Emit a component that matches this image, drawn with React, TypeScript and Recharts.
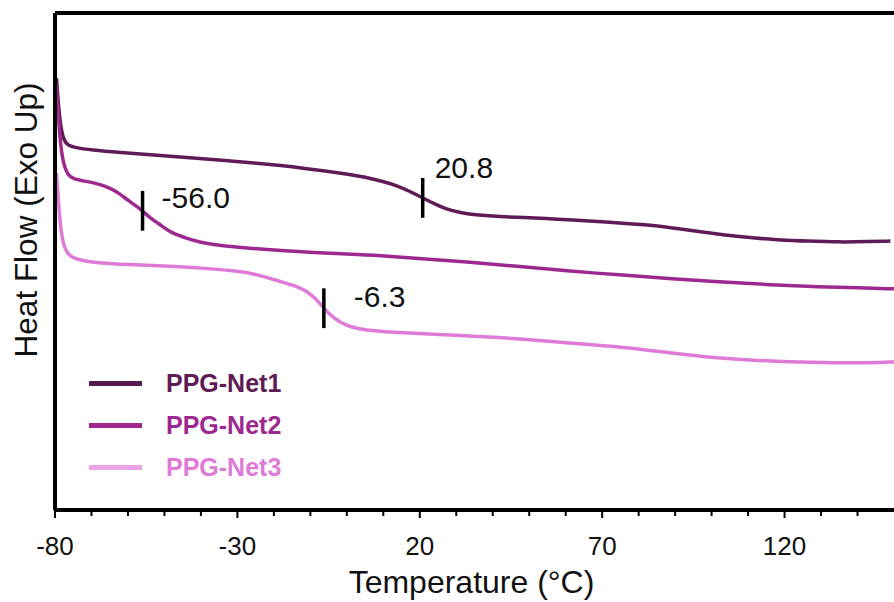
import React from "react";
import {
  ComposedChart,
  Line,
  XAxis,
  YAxis,
  ReferenceLine,
  ReferenceDot,
  Legend,
} from "recharts";

const FONT = "'Liberation Sans', Arial, Helvetica, sans-serif";

// DSC traces: temperature (°C) and heat flow (arb. units, exo up)
const net1Temp = [-79.6, -79.0, -78.4, -77.6, -76.5, -75, -70, -62, -54, -45, -35, -25, -18, -12, -6, 0, 5, 10, 14, 17, 20.8, 24, 27, 31, 36, 42, 48, 58, 66, 76, 84, 91, 98, 105, 112, 119, 126, 135, 143, 149];
const net1Flow = [86.9, 80.9, 76.9, 74.4, 73.4, 73.0, 72.4, 71.9, 71.5, 71.0, 70.4, 69.8, 69.3, 68.8, 68.2, 67.6, 67.0, 66.1, 65.2, 64.2, 62.8, 61.6, 60.6, 59.8, 59.3, 59.0, 58.9, 58.5, 58.2, 57.7, 57.3, 56.6, 55.9, 55.2, 54.7, 54.3, 54.1, 53.9, 54.0, 54.1];

const net2Temp = [-79.6, -79.0, -78.4, -77.6, -76.5, -75, -72, -68, -65, -62.5, -60, -58, -56, -54, -51, -48, -44, -40, -34, -27, -18, -9, 0, 9, 20, 35, 47.5, 60, 75, 88, 102, 116, 130, 140, 150];
const net2Flow = [85.5, 78.5, 72.8, 69.4, 67.4, 66.6, 66.2, 65.6, 64.8, 63.8, 62.3, 61.3, 60.2, 58.8, 57.3, 55.7, 54.7, 53.8, 53.1, 52.7, 52.2, 51.8, 51.5, 51.2, 50.6, 49.8, 49.0, 48.1, 47.3, 46.6, 45.9, 45.3, 44.9, 44.7, 44.5];

const net3Temp = [-79.6, -79.0, -78.4, -77.6, -76.5, -75, -72, -68, -60, -50, -40, -30, -24, -18.5, -13, -10, -8, -6.3, -4.5, -2, 1, 5, 12, 25, 40, 47.5, 61, 75, 82, 89, 96, 102, 110, 121, 134.5, 143.6, 150];
const net3Flow = [67.8, 61.4, 56.3, 53.1, 51.5, 50.7, 50.1, 49.7, 49.4, 49.1, 48.7, 48.1, 47.3, 46.0, 44.9, 43.5, 42.1, 40.6, 39.2, 37.8, 36.8, 36.2, 35.8, 35.3, 34.8, 34.4, 33.6, 32.8, 32.2, 31.6, 31.0, 30.6, 30.2, 29.8, 29.6, 29.6, 29.8];

const seriesNames = ["PPG-Net1", "PPG-Net2", "PPG-Net3"];
const seriesColors = ["#5f1b56", "#9c2890", "#df7bd7"];
const legendLineColors = ["#561a4e", "#a0288f", "#e9a2e3"];

// glass transition temperatures, one per series
const tgValues = [20.8, -56.0, -6.3];

const majorTicks = [-80, -30, 20, 70, 120];
const allTicks = [-80, -70, -60, -50, -40, -30, -20, -10, 0, 10, 20, 30, 40, 50, 60, 70, 80, 90, 100, 110, 120, 130, 140];

const temps = [net1Temp, net2Temp, net3Temp];
const flows = [net1Flow, net2Flow, net3Flow];
const series = temps.map((t, s) => t.map((x, i) => ({ t: x, v: flows[s][i] })));

// Tg label placement relative to the mark
const tgLabelShift = [
  { dx: 12, dy: -20 },
  { dx: 19, dy: -3 },
  { dx: 30, dy: -1 },
];

const flowAt = (t: number[], f: number[], x: number) => {
  for (let i = 1; i < t.length; i++) {
    if (x <= t[i]) {
      const k = (x - t[i - 1]) / (t[i] - t[i - 1]);
      return f[i - 1] + k * (f[i] - f[i - 1]);
    }
  }
  return f[f.length - 1];
};

const TempTick = (props: any) => {
  const { x, y, payload } = props;
  const major = majorTicks.includes(payload.value);
  return (
    <g>
      <line x1={x} x2={x} y1={y} y2={y + (major ? 8 : 6)} stroke="#000" strokeWidth={2} />
      {major && (
        <text x={x} y={y + 45} textAnchor="middle" fontSize={26} fontFamily={FONT} fill="#111">
          {payload.value}
        </text>
      )}
    </g>
  );
};

const renderLegend = () => (
  <div style={{ fontFamily: FONT }}>
    {seriesNames.map((name, i) => (
      <div key={name} style={{ display: "flex", alignItems: "center", height: 42 }}>
        <span style={{ display: "inline-block", width: 53, height: 5, background: legendLineColors[i] }} />
        <span style={{ marginLeft: 24, fontSize: 25, fontWeight: 700, color: seriesColors[i] }}>{name}</span>
      </div>
    ))}
  </div>
);

export default function App() {
  return (
    <div style={{ position: "absolute", left: 0, top: 0, background: "#fff" }}>
      <ComposedChart width={894} height={602} margin={{ top: 13, right: 0, bottom: 0, left: 0 }}>
        <XAxis
          type="number"
          dataKey="t"
          domain={[-80, 150]}
          ticks={allTicks}
          interval={0}
          allowDataOverflow
          height={92}
          tickSize={0}
          tickMargin={0}
          tickLine={false}
          tick={<TempTick />}
          axisLine={{ stroke: "#000", strokeWidth: 4 }}
          label={{
            content: ({ viewBox }: any) => (
              <text
                x={viewBox.x + viewBox.width / 2 - 3}
                y={593}
                textAnchor="middle"
                fontSize={32}
                fontFamily={FONT}
                fill="#111"
              >
                Temperature (°C)
              </text>
            ),
          }}
        />
        <YAxis
          type="number"
          domain={[0, 100]}
          width={55}
          tick={false}
          tickLine={false}
          axisLine={{ stroke: "#000", strokeWidth: 4 }}
          label={{
            content: () => (
              <text
                x={37}
                y={220}
                transform="rotate(-90 37 220)"
                textAnchor="middle"
                fontSize={31.5}
                fontFamily={FONT}
                fill="#111"
              >
                Heat Flow (Exo Up)
              </text>
            ),
          }}
        />
        <ReferenceLine y={100} stroke="#000" strokeWidth={4} />
        {series.map((data, i) => (
          <Line
            key={seriesNames[i]}
            data={data}
            dataKey="v"
            name={seriesNames[i]}
            type="basis"
            stroke={seriesColors[i]}
            strokeWidth={3.5}
            dot={false}
            activeDot={false}
            isAnimationActive={false}
          />
        ))}
        {tgValues.map((tg, i) => {
          const yc = flowAt(temps[i], flows[i], tg);
          return (
            <ReferenceLine
              key={`tg-${i}`}
              segment={[
                { x: tg, y: yc - 4 },
                { x: tg, y: yc + 4 },
              ]}
              stroke="#000"
              strokeWidth={3.5}
            />
          );
        })}
        {tgValues.map((tg, i) => {
          const yc = flowAt(temps[i], flows[i], tg);
          const { dx, dy } = tgLabelShift[i];
          return (
            <ReferenceDot
              key={`tgl-${i}`}
              x={tg}
              y={yc}
              r={0}
              stroke="none"
              fill="none"
              label={{
                content: ({ viewBox }: any) => (
                  <text
                    x={viewBox.x + dx}
                    y={viewBox.y + dy}
                    fontSize={30}
                    fontFamily={FONT}
                    fill="#111"
                  >
                    {tg.toFixed(1)}
                  </text>
                ),
              }}
            />
          );
        })}
        <Legend
          content={renderLegend}
          layout="horizontal"
          verticalAlign="middle"
          align="center"
          wrapperStyle={{ position: "absolute", left: 89, top: 362, width: "auto" }}
        />
      </ComposedChart>
    </div>
  );
}
